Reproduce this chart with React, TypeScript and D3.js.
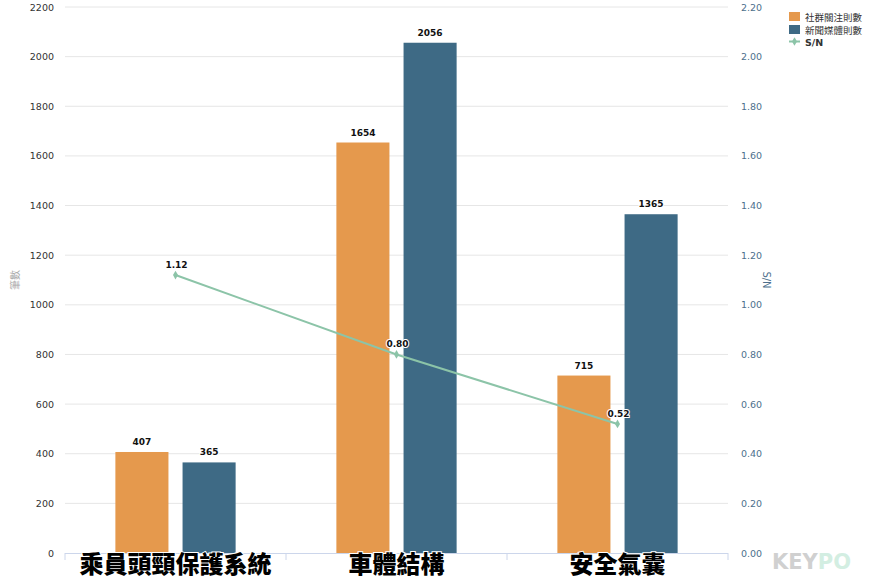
import { useEffect, useRef } from 'react'
import * as d3 from 'd3'

const categories = ['乘員頭頸保護系統', '車體結構', '安全氣囊']
const seriesNames = ['社群關注則數', '新聞媒體則數']
const socialCounts = [407, 1654, 715]
const newsCounts = [365, 2056, 1365]
const snRatio = [1.12, 0.8, 0.52]
const leftTicks = [0, 200, 400, 600, 800, 1000, 1200, 1400, 1600, 1800, 2000, 2200]
const rightTicks = [0, 0.2, 0.4, 0.6, 0.8, 1.0, 1.2, 1.4, 1.6, 1.8, 2.0, 2.2]

const W = 870
const H = 580
const colors = ['#e5994d', '#3e6a85']
const lineColor = '#8cc4a8'
const font = '"DejaVu Sans", "Noto Sans CJK TC", sans-serif'

export default function App() {
  const ref = useRef<SVGSVGElement>(null)

  useEffect(() => {
    if (!ref.current) return
    const svg = d3.select(ref.current)
    svg.selectAll('*').remove()

    const left = 65, right = 728, top = 7, bottom = 553
    const x = d3.scaleBand().domain(categories).range([left, right])
    const inner = d3.scaleBand().domain(seriesNames).range([0, x.bandwidth()]).paddingInner(0.21).paddingOuter(0.75)
    const y = d3.scaleLinear().domain([0, 2200]).range([bottom, top])
    const y2 = d3.scaleLinear().domain([0, 2.2]).range([bottom, top])

    // grid
    svg.append('g').selectAll('line').data(leftTicks.slice(1)).join('line')
      .attr('x1', left).attr('x2', right)
      .attr('y1', d => y(d)).attr('y2', d => y(d))
      .attr('stroke', '#e6e6e6').attr('stroke-width', 1)

    // left ticks
    svg.append('g').selectAll('text').data(leftTicks).join('text')
      .attr('x', 54).attr('y', d => y(d) + 3.5)
      .attr('text-anchor', 'end').attr('font-size', 9.5).attr('font-family', font)
      .attr('fill', '#333').text(d => d)

    // right ticks
    svg.append('g').selectAll('text').data(rightTicks).join('text')
      .attr('x', 741).attr('y', d => y2(d) + 3.5)
      .attr('text-anchor', 'start').attr('font-size', 9.5).attr('font-family', font)
      .attr('fill', '#4d6f8c').text(d => d.toFixed(2))

    // axis titles
    svg.append('text')
      .attr('transform', `translate(19,${(top + bottom) / 2}) rotate(-90)`)
      .attr('text-anchor', 'middle').attr('font-size', 10).attr('font-family', font)
      .attr('fill', '#aaa').text('筆數')
    svg.append('text')
      .attr('transform', `translate(763,${(top + bottom) / 2}) rotate(90)`)
      .attr('text-anchor', 'middle').attr('font-size', 10).attr('font-family', font)
      .attr('fill', '#4d6f8c').text('S/N')

    // bars
    const seriesData = [socialCounts, newsCounts]
    seriesData.forEach((vals, si) => {
      const g = svg.append('g')
      g.selectAll('rect').data(vals).join('rect')
        .attr('x', (_, i) => (x(categories[i]) as number) + (inner(seriesNames[si]) as number))
        .attr('y', d => y(d))
        .attr('width', inner.bandwidth())
        .attr('height', d => bottom - y(d))
        .attr('fill', colors[si])
      g.selectAll('text').data(vals).join('text')
        .attr('x', (_, i) => (x(categories[i]) as number) + (inner(seriesNames[si]) as number) + inner.bandwidth() / 2)
        .attr('y', d => y(d) - 7)
        .attr('text-anchor', 'middle').attr('font-size', 9).attr('font-weight', 'bold')
        .attr('font-family', font).attr('fill', '#111')
        .attr('stroke', '#fff').attr('stroke-width', 2).attr('paint-order', 'stroke')
        .text(d => d)
    })

    // x axis
    svg.append('line').attr('x1', left).attr('x2', right).attr('y1', bottom + 0.5).attr('y2', bottom + 0.5)
      .attr('stroke', '#ccd6eb')
    svg.append('g').selectAll('line').data([...categories.map(c => x(c) as number), right]).join('line')
      .attr('x1', d => d).attr('x2', d => d).attr('y1', bottom).attr('y2', bottom + 7)
      .attr('stroke', '#ccd6eb')

    // category labels
    svg.append('g').selectAll('text').data(categories).join('text')
      .attr('x', d => (x(d) as number) + x.bandwidth() / 2)
      .attr('y', 572.5)
      .attr('text-anchor', 'middle').attr('font-size', 24).attr('font-weight', 900)
      .attr('font-family', '"Noto Sans CJK TC", sans-serif').attr('fill', '#000')
      .attr('stroke', '#fff').attr('stroke-width', 2).attr('paint-order', 'stroke')
      .text(d => d)

    // S/N line
    const pts = snRatio.map((v, i) => [(x(categories[i]) as number) + x.bandwidth() / 2, y2(v)] as [number, number])
    svg.append('path').attr('d', d3.line()(pts) as string)
      .attr('fill', 'none').attr('stroke', lineColor).attr('stroke-width', 2)
    const diamond = d3.symbol().type(d3.symbolDiamond).size(22)
    svg.append('g').selectAll('path').data(pts).join('path')
      .attr('transform', d => `translate(${d[0]},${d[1]})`)
      .attr('d', diamond() as string).attr('fill', lineColor)
    svg.append('g').selectAll('text').data(snRatio).join('text')
      .attr('x', (_, i) => pts[i][0] + 1).attr('y', (_, i) => pts[i][1] - 7)
      .attr('text-anchor', 'middle').attr('font-size', 9).attr('font-weight', 'bold')
      .attr('font-family', font).attr('fill', '#111')
      .attr('stroke', '#fff').attr('stroke-width', 2).attr('paint-order', 'stroke')
      .text(d => d.toFixed(2))

    // legend
    const lg = svg.append('g').attr('transform', 'translate(789,12)')
    seriesNames.forEach((n, i) => {
      lg.append('rect').attr('x', 0).attr('y', i * 13).attr('width', 11).attr('height', 9).attr('fill', colors[i])
      lg.append('text').attr('x', 16).attr('y', i * 13 + 8.5)
        .attr('font-size', 9.5).attr('font-family', font).attr('fill', '#333').text(n)
    })
    lg.append('line').attr('x1', 0).attr('x2', 11).attr('y1', 29.5).attr('y2', 29.5)
      .attr('stroke', lineColor).attr('stroke-width', 2)
    lg.append('path').attr('transform', 'translate(5.5,29.5)').attr('d', diamond() as string).attr('fill', lineColor)
    lg.append('text').attr('x', 16).attr('y', 33.5)
      .attr('font-size', 9.5).attr('font-weight', 'bold').attr('font-family', font).attr('fill', '#333').text('S/N')

    // watermark
    const wm = svg.append('text').attr('x', 772).attr('y', 569)
      .attr('font-size', 21).attr('font-weight', 'bold').attr('font-family', font)
    wm.append('tspan').attr('fill', '#d0d0d0').text('KEY')
    wm.append('tspan').attr('fill', '#d3eee2').text('PO')
  }, [])

  return (
    <div style={{ position: 'absolute', left: 0, top: 0 }}>
      <svg ref={ref} width={W} height={H} style={{ display: 'block', background: '#fff' }} />
    </div>
  )
}
